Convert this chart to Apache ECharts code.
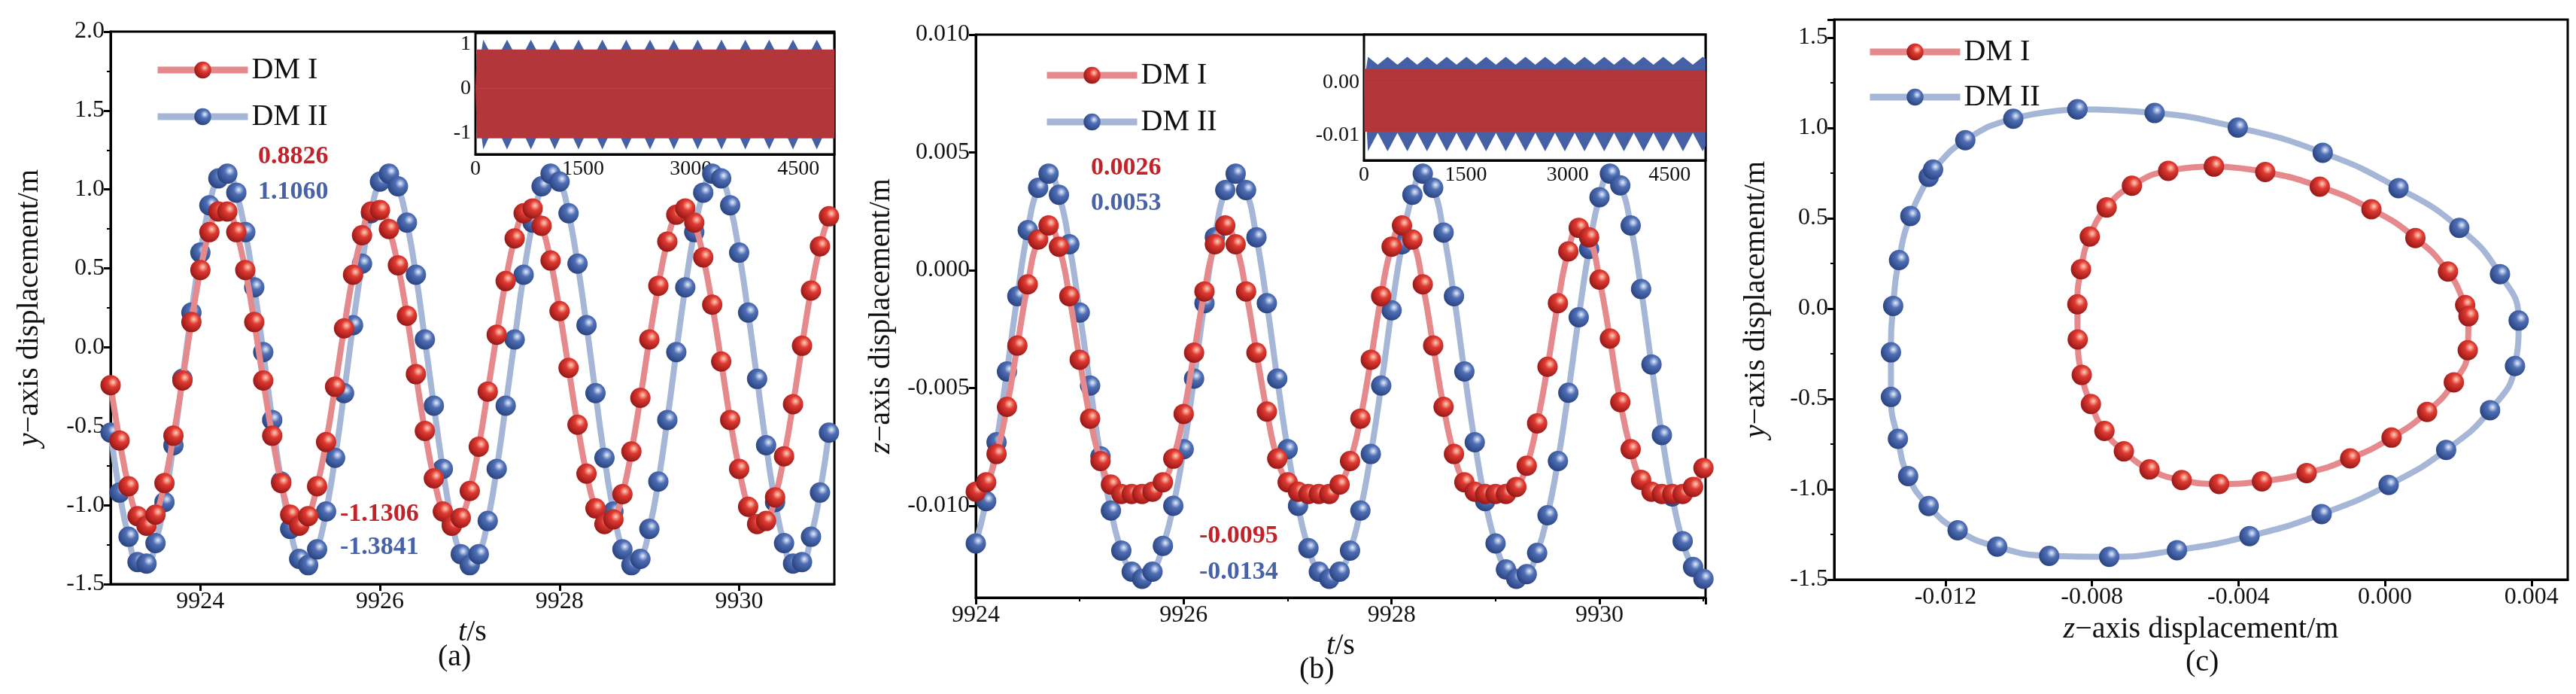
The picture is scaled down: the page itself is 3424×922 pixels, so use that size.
<!DOCTYPE html>
<html>
<head>
<meta charset="utf-8">
<script src="https://cdn.jsdelivr.net/npm/echarts@6/dist/echarts.min.js"></script>
<style>html,body{margin:0;padding:0;background:#fff}#main{width:3424px;height:922px}</style>
</head>
<body>
<div id="main"></div>
<script>
// time samples
var tA0 = 9923, tB0 = 9924, dt = 0.1;

// (a) y displacement
var yDM1 = [-0.24,-0.59,-0.88,-1.07,-1.13,-1.06,-0.86,-0.56,-0.21,0.16,0.49,0.73,0.86,0.86,0.73,0.49,0.16,-0.21,-0.56,-0.86,-1.06,-1.13,-1.07,-0.88,-0.60,-0.25,0.12,0.46,0.71,0.86,0.87,0.75,0.52,0.20,-0.17,-0.53,-0.83,-1.04,-1.13,-1.08,-0.91,-0.63,-0.28,0.08,0.42,0.69,0.85,0.88,0.77,0.55,0.23,-0.13,-0.49,-0.80,-1.02,-1.12,-1.09,-0.93,-0.66,-0.32,0.05,0.39,0.67,0.84,0.88,0.79,0.57,0.27,-0.09,-0.46,-0.77,-1.01,-1.12,-1.10,-0.95,-0.69,-0.36,0.01,0.36,0.64,0.83];
var yDM2 = [-0.54,-0.92,-1.20,-1.36,-1.37,-1.24,-0.98,-0.62,-0.20,0.22,0.60,0.90,1.07,1.10,0.98,0.73,0.38,-0.03,-0.46,-0.85,-1.15,-1.34,-1.38,-1.28,-1.04,-0.70,-0.29,0.14,0.53,0.85,1.05,1.10,1.02,0.79,0.46,0.05,-0.37,-0.77,-1.10,-1.31,-1.38,-1.31,-1.10,-0.77,-0.37,0.05,0.46,0.79,1.02,1.10,1.05,0.85,0.53,0.14,-0.29,-0.70,-1.04,-1.28,-1.38,-1.34,-1.15,-0.85,-0.46,-0.03,0.38,0.73,0.98,1.10,1.07,0.90,0.60,0.22,-0.20,-0.62,-0.98,-1.24,-1.37,-1.36,-1.20,-0.92,-0.54];

// (b) z displacement
var zDM1 = [-0.0094,-0.0090,-0.0078,-0.0058,-0.0032,-0.0006,0.0013,0.0019,0.0010,-0.0011,-0.0038,-0.0063,-0.0081,-0.0091,-0.0095,-0.0095,-0.0095,-0.0094,-0.0090,-0.0080,-0.0061,-0.0035,-0.0009,0.0011,0.0019,0.0011,-0.0009,-0.0035,-0.0060,-0.0080,-0.0090,-0.0094,-0.0095,-0.0095,-0.0095,-0.0091,-0.0081,-0.0063,-0.0038,-0.0011,0.0010,0.0019,0.0013,-0.0006,-0.0032,-0.0058,-0.0078,-0.0090,-0.0094,-0.0095,-0.0095,-0.0095,-0.0092,-0.0083,-0.0065,-0.0041,-0.0014,0.0008,0.0018,0.0014,-0.0004,-0.0029,-0.0056,-0.0076,-0.0089,-0.0094,-0.0095,-0.0095,-0.0095,-0.0092,-0.0084];
var zDM2 = [-0.0116,-0.0098,-0.0073,-0.0043,-0.0011,0.0017,0.0035,0.0041,0.0032,0.0011,-0.0018,-0.0049,-0.0079,-0.0102,-0.0119,-0.0128,-0.0131,-0.0128,-0.0117,-0.0100,-0.0076,-0.0046,-0.0014,0.0014,0.0034,0.0041,0.0034,0.0014,-0.0014,-0.0046,-0.0076,-0.0100,-0.0118,-0.0128,-0.0131,-0.0128,-0.0119,-0.0102,-0.0078,-0.0049,-0.0017,0.0011,0.0032,0.0041,0.0035,0.0016,-0.0011,-0.0043,-0.0073,-0.0098,-0.0116,-0.0127,-0.0131,-0.0129,-0.0120,-0.0104,-0.0081,-0.0052,-0.0020,0.0009,0.0031,0.0041,0.0036,0.0019,-0.0008,-0.0040,-0.0070,-0.0096,-0.0115,-0.0126,-0.0131];

// (c) phase trajectory [z, y]
var orbitDM1 = [[-0.00467,0.787],[-0.00327,0.756],[-0.00178,0.675],[-0.00037,0.550],[0.00083,0.391],[0.00172,0.205],[0.00219,0.020],[0.00228,-0.042],[0.00226,-0.230],[0.00188,-0.408],[0.00115,-0.572],[0.00018,-0.714],[-0.00095,-0.829],[-0.00214,-0.910],[-0.00336,-0.956],[-0.00453,-0.971],[-0.00555,-0.949],[-0.00643,-0.890],[-0.00713,-0.790],[-0.00766,-0.677],[-0.00803,-0.528],[-0.00828,-0.367],[-0.00839,-0.171],[-0.00840,0.024],[-0.00830,0.218],[-0.00806,0.399],[-0.00760,0.560],[-0.00691,0.680],[-0.00592,0.763],[-0.00467,0.787]];
var orbitDM2 = [[-0.00840,1.103],[-0.00629,1.083],[-0.00402,1.002],[-0.00170,0.863],[0.00037,0.667],[0.00203,0.447],[0.00314,0.191],[0.00365,-0.066],[0.00355,-0.318],[0.00287,-0.562],[0.00167,-0.782],[0.00010,-0.976],[-0.00173,-1.137],[-0.00370,-1.259],[-0.00568,-1.337],[-0.00753,-1.374],[-0.00917,-1.369],[-0.01059,-1.318],[-0.01167,-1.227],[-0.01246,-1.093],[-0.01302,-0.927],[-0.01330,-0.721],[-0.01349,-0.489],[-0.01349,-0.242],[-0.01343,0.015],[-0.01327,0.269],[-0.01296,0.513],[-0.01246,0.729],[-0.01234,0.770],[-0.01146,0.932],[-0.01015,1.051],[-0.00840,1.103]];

// insets: envelopes over 0..5000 s
var insA_t = [0,108,274,440,606,772,938,1104,1270,1436,1602,1768,1934,2100,2266,2432,2598,2764,2930,3096,3262,3428,3594,3760,3926,4092,4258,4424,4590,4756,4922,5000];
var insA_up = [0,1.1,0.6,1.1,0.6,1.1,0.6,1.1,0.6,1.1,0.6,1.1,0.6,1.1,0.6,1.1,0.6,1.1,0.6,1.1,0.6,1.1,0.6,1.1,0.6,1.1,0.6,1.1,0.6,1.1,0.6,0.9];
var insA_lo = [0,-1.38,-0.8,-1.38,-0.8,-1.38,-0.8,-1.38,-0.8,-1.38,-0.8,-1.38,-0.8,-1.38,-0.8,-1.38,-0.8,-1.38,-0.8,-1.38,-0.8,-1.38,-0.8,-1.38,-0.8,-1.38,-0.8,-1.38,-0.8,-1.38,-0.8,-1.1];
var insA_red_t = [0, 20, 5000];
var insA_red_up = [0, 0.88, 0.88];
var insA_red_lo = [0, -1.13, -1.13];

var insB_t = [0,58,203,348,493,638,783,928,1073,1218,1363,1508,1653,1798,1943,2088,2233,2378,2523,2668,2813,2958,3103,3248,3393,3538,3683,3828,3973,4118,4263,4408,4553,4698,4843,4988,5030];
var insB_up = [0,0.0049,0.0034,0.0049,0.0034,0.0049,0.0034,0.0049,0.0034,0.0049,0.0034,0.0049,0.0034,0.0049,0.0034,0.0049,0.0034,0.0049,0.0034,0.0049,0.0034,0.0049,0.0034,0.0049,0.0034,0.0049,0.0034,0.0049,0.0034,0.0049,0.0034,0.0049,0.0034,0.0049,0.0034,0.0049,0.0045];
var insB_lo = [0,-0.0130,-0.0095,-0.0130,-0.0095,-0.0130,-0.0095,-0.0130,-0.0095,-0.0130,-0.0095,-0.0130,-0.0095,-0.0130,-0.0095,-0.0130,-0.0095,-0.0130,-0.0095,-0.0130,-0.0095,-0.0130,-0.0095,-0.0130,-0.0095,-0.0130,-0.0095,-0.0130,-0.0095,-0.0130,-0.0095,-0.0130,-0.0095,-0.0130,-0.0095,-0.0130,-0.0120];
var insB_red_t = [0, 4, 8, 14, 5030];
var insB_red_up = [0, 0.0090, 0.0026, 0.0024, 0.0024];
var insB_red_lo = [0, -0.0093, -0.0093, -0.0093, -0.0093];

var names = ['DM I', 'DM II'];

var chart = echarts.init(document.getElementById('main'));
var FONT = '"Liberation Serif", "DejaVu Serif", serif';

function ball(c0, c1, c2) {
    return new echarts.graphic.RadialGradient(0.62, 0.36, 0.7, [
        { offset: 0, color: c0 }, { offset: 0.35, color: c1 }, { offset: 1, color: c2 }
    ]);
}
var redBall = ball('#ffd0b8', '#e03a32', '#8e1414');
var blueBall = ball('#e4eefc', '#4f6fb5', '#263f7c');
var redLine = '#e5898c', blueLine = '#a6b6d6';

function pairs(t0, arr) {
    return arr.map(function (v, i) { return [+(t0 + i * dt).toFixed(2), v]; });
}
function zip(t, v) { return t.map(function (x, i) { return [x, v[i]]; }); }

function lineSeries(name, data, x, y, lc, bc) {
    return {
        name: name, type: 'line', xAxisIndex: x, yAxisIndex: y, data: data,
        smooth: true, symbol: 'circle', symbolSize: 27,
        lineStyle: { color: lc, width: 8 },
        itemStyle: { color: bc },
        z: name === 'DM I' ? 3 : 2
    };
}
function band(data, x, y, color, z) {
    return {
        type: 'line', xAxisIndex: x, yAxisIndex: y, data: data, symbol: 'none',
        lineStyle: { width: 0 }, areaStyle: { color: color, opacity: 1, origin: 0 }, z: z, silent: true
    };
}

var axisFont = { fontFamily: FONT, fontSize: 32, color: '#111' };
var line3 = { show: true, onZero: false, lineStyle: { color: '#000', width: 3 } };
var tick = { show: true, length: 9, lineStyle: { color: '#000', width: 3 } };
var minor = { show: true, splitNumber: 2, length: 5, lineStyle: { color: '#000', width: 2 } };
function nameStyle(size) {
    return { fontFamily: FONT, fontSize: size, color: '#111',
             rich: { i: { fontStyle: 'italic', fontFamily: FONT, fontSize: size } } };
}
function plain(v) { return String(v); }

var legendText = { fontFamily: FONT, fontSize: 40, color: '#111' };
function legendAt(left, top, gap) {
    return { data: names, left: left, top: top, orient: 'vertical', itemWidth: 120, itemHeight: 28, itemGap: gap,
             textStyle: legendText, lineStyle: { width: 9 } };
}
var annot = 'bold 34px "Liberation Serif"';

var option = {
    backgroundColor: '#fff',
    animation: false,
    grid: [
        { left: 147, top: 42, width: 962, height: 734, show: true, borderColor: '#000', borderWidth: 3 },
        { left: 632, top: 44, width: 477, height: 161, show: true, borderColor: '#000', borderWidth: 3, backgroundColor: '#fff', z: 5 },
        { left: 1297, top: 46, width: 970, height: 748, show: true, borderColor: '#000', borderWidth: 3 },
        { left: 1813, top: 46, width: 454, height: 167, show: true, borderColor: '#000', borderWidth: 3, backgroundColor: '#fff', z: 5 },
        { left: 2438, top: 26, width: 975, height: 744, show: true, borderColor: '#000', borderWidth: 3 }
    ],
    legend: [legendAt(200, 68, 22), legendAt(1382, 75, 22), legendAt(2476, 44, 20)],
    xAxis: [
        { gridIndex: 0, type: 'value', min: 9923, max: 9931.06, axisLine: line3, splitLine: { show: false },
          axisTick: Object.assign({ customValues: [9924, 9926, 9928, 9930] }, tick),
          axisLabel: Object.assign({ customValues: [9924, 9926, 9928, 9930], margin: 8, formatter: plain }, axisFont),
          name: '{i|t}/s', nameLocation: 'middle', nameGap: 34, nameTextStyle: nameStyle(40) },
        { gridIndex: 1, type: 'value', min: 0, max: 5000, interval: 1500, axisLine: line3, splitLine: { show: false },
          axisTick: { show: true, inside: true, length: 6, lineStyle: { width: 2 } },
          axisLabel: Object.assign({ showMaxLabel: false, margin: 6, formatter: plain }, axisFont, { fontSize: 28 }) },
        { gridIndex: 2, type: 'value', min: 9924, max: 9931.02, interval: 2, axisLine: line3, splitLine: { show: false },
          axisTick: tick, minorTick: minor,
          axisLabel: Object.assign({ showMaxLabel: false, margin: 8, formatter: plain }, axisFont),
          name: '{i|t}/s', nameLocation: 'middle', nameGap: 24, nameTextStyle: nameStyle(40) },
        { gridIndex: 3, type: 'value', min: 0, max: 5030, interval: 1500, axisLine: line3, splitLine: { show: false },
          axisTick: { show: true, inside: true, length: 6, lineStyle: { width: 2 } },
          axisLabel: Object.assign({ showMaxLabel: false, margin: 6, formatter: plain }, axisFont, { fontSize: 28 }) },
        { gridIndex: 4, type: 'value', min: -0.01504, max: 0.00499, axisLine: line3, splitLine: { show: false },
          axisTick: Object.assign({ customValues: [-0.012, -0.008, -0.004, 0, 0.004] }, tick),
          axisLabel: Object.assign({ customValues: [-0.012, -0.008, -0.004, 0, 0.004], margin: 8,
              formatter: function (v) { return v.toFixed(3); } }, axisFont),
          name: '{i|z}−axis displacement/m', nameLocation: 'middle', nameGap: 46, nameTextStyle: nameStyle(40) }
    ],
    yAxis: [
        { gridIndex: 0, type: 'value', min: -1.5, max: 2.0, interval: 0.5, axisLine: line3, splitLine: { show: false },
          axisTick: tick, minorTick: minor,
          axisLabel: Object.assign({ formatter: function (v) { return v.toFixed(1); } }, axisFont),
          name: '{i|y}−axis displacement/m', nameLocation: 'middle', nameGap: 88, nameTextStyle: nameStyle(40) },
        { gridIndex: 1, type: 'value', min: -1.49, max: 1.25, axisLine: line3, splitLine: { show: false },
          axisTick: { show: true, inside: true, length: 6, lineStyle: { width: 2 }, customValues: [-1, 0, 1] },
          axisLabel: Object.assign({ customValues: [-1, 0, 1], margin: 6 }, axisFont, { fontSize: 28 }) },
        { gridIndex: 2, type: 'value', min: -0.0139, max: 0.010, axisLine: line3, splitLine: { show: false },
          axisTick: Object.assign({ customValues: [-0.01, -0.005, 0, 0.005, 0.01] }, tick),
          axisLabel: Object.assign({ customValues: [-0.01, -0.005, 0, 0.005, 0.01],
              formatter: function (v) { return v.toFixed(3); } }, axisFont),
          name: '{i|z}−axis displacement/m', nameLocation: 'middle', nameGap: 106, nameTextStyle: nameStyle(40) },
        { gridIndex: 3, type: 'value', min: -0.0147, max: 0.0091, axisLine: line3, splitLine: { show: false },
          axisTick: { show: true, inside: true, length: 6, lineStyle: { width: 2 }, customValues: [-0.01, 0] },
          axisLabel: Object.assign({ customValues: [-0.01, 0], margin: 6,
              formatter: function (v) { return v.toFixed(2); } }, axisFont, { fontSize: 28 }) },
        { gridIndex: 4, type: 'value', min: -1.5, max: 1.6, interval: 0.5, axisLine: line3, splitLine: { show: false },
          axisTick: tick, minorTick: minor,
          axisLabel: Object.assign({ showMaxLabel: false, formatter: function (v) { return v.toFixed(1); } }, axisFont),
          name: '{i|y}−axis displacement/m', nameLocation: 'middle', nameGap: 84, nameTextStyle: nameStyle(40) }
    ],
    series: [
        lineSeries('DM II', pairs(tA0, yDM2), 0, 0, blueLine, blueBall),
        lineSeries('DM I', pairs(tA0, yDM1), 0, 0, redLine, redBall),
        band(zip(insA_t, insA_up), 1, 1, '#4660a6', 6),
        band(zip(insA_t, insA_lo), 1, 1, '#4660a6', 6),
        band(zip(insA_red_t, insA_red_up), 1, 1, '#b3363a', 7),
        band(zip(insA_red_t, insA_red_lo), 1, 1, '#b3363a', 7),
        lineSeries('DM II', pairs(tB0, zDM2), 2, 2, blueLine, blueBall),
        lineSeries('DM I', pairs(tB0, zDM1), 2, 2, redLine, redBall),
        band(zip(insB_t, insB_up), 3, 3, '#4660a6', 6),
        band(zip(insB_t, insB_lo), 3, 3, '#4660a6', 6),
        band(zip(insB_red_t, insB_red_up), 3, 3, '#b3363a', 7),
        band(zip(insB_red_t, insB_red_lo), 3, 3, '#b3363a', 7),
        lineSeries('DM I', orbitDM1, 4, 4, redLine, redBall),
        lineSeries('DM II', orbitDM2, 4, 4, blueLine, blueBall)
    ],
    graphic: [
        { type: 'text', left: 343, top: 191, style: { text: '0.8826', fill: '#c0242a', font: annot } },
        { type: 'text', left: 343, top: 238, style: { text: '1.1060', fill: '#4862a8', font: annot } },
        { type: 'text', left: 452, top: 666, style: { text: '-1.1306', fill: '#c0242a', font: annot } },
        { type: 'text', left: 452, top: 710, style: { text: '-1.3841', fill: '#4862a8', font: annot } },
        { type: 'text', left: 1450, top: 206, style: { text: '0.0026', fill: '#c0242a', font: annot } },
        { type: 'text', left: 1450, top: 253, style: { text: '0.0053', fill: '#4862a8', font: annot } },
        { type: 'text', left: 1594, top: 695, style: { text: '-0.0095', fill: '#c0242a', font: annot } },
        { type: 'text', left: 1594, top: 743, style: { text: '-0.0134', fill: '#4862a8', font: annot } },
        { type: 'text', left: 582, top: 853, style: { text: '(a)', fill: '#111', font: '40px "Liberation Serif"' } },
        { type: 'text', left: 1727, top: 870, style: { text: '(b)', fill: '#111', font: '40px "Liberation Serif"' } },
        { type: 'text', left: 2905, top: 860, style: { text: '(c)', fill: '#111', font: '40px "Liberation Serif"' } }
    ]
};

chart.setOption(option);
window.addEventListener('resize', function () { chart.resize(); });
</script>
</body>
</html>
